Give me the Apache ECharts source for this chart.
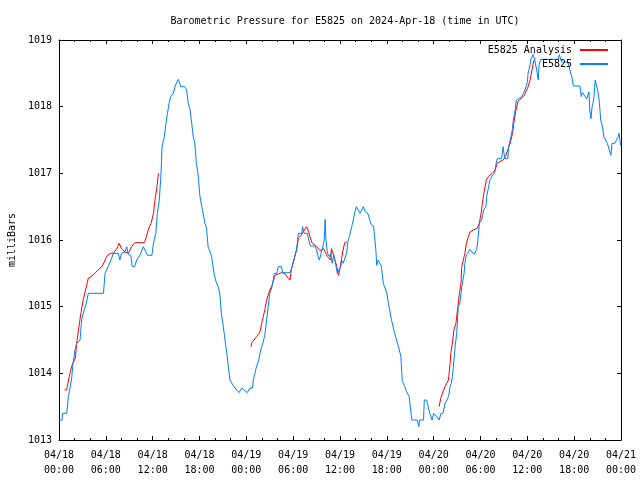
<!DOCTYPE html>
<html>
<head>
<meta charset="utf-8">
<script src="https://cdn.jsdelivr.net/npm/echarts@6/dist/echarts.min.js"></script>
<style>
html,body{margin:0;padding:0;background:#fff;}
#chart{width:640px;height:480px;}
</style>
</head>
<body>
<div id="chart"></div>
<script>
// Hours since 2024-04-18 00:00 UTC
var blueTimes = [0,0.4,0.45,1.0,1.2,1.6,1.8,2.05,2.26,2.7,2.9,3.1,3.5,3.76,5.7,5.9,6.3,6.75,6.96,7.6,7.8,8.0,8.45,8.67,8.9,9.2,9.4,9.7,9.95,10.4,10.8,11.0,11.35,11.9,12.1,12.4,12.6,12.85,13.07,13.2,13.5,13.7,13.9,14.1,14.3,14.65,14.86,15.1,15.3,15.6,16.1,16.35,16.56,16.8,17.0,17.2,17.4,17.6,17.8,18.06,18.3,18.5,18.7,18.9,19.1,19.3,19.56,19.86,20.1,20.4,20.6,20.8,21.05,21.27,21.5,21.7,21.9,22.3,22.76,23.06,23.4,23.6,24.1,24.47,24.8,24.9,25.1,25.3,25.6,25.75,25.96,26.17,26.4,26.6,26.8,27.0,27.25,27.45,27.6,27.9,28.1,28.5,28.65,29.6,29.8,30.0,30.2,30.45,30.66,31.1,31.2,31.4,31.8,32.07,32.2,32.8,33.0,33.2,33.36,33.6,33.8,33.98,34.1,34.2,34.4,34.65,34.8,35.0,35.2,35.35,35.5,35.65,35.9,36.1,36.2,36.4,36.6,36.85,37.0,37.2,37.5,37.7,37.9,38.1,38.3,38.56,38.75,38.98,39.2,39.4,39.6,39.8,40.0,40.3,40.45,40.6,40.7,40.9,41.1,41.3,41.55,42.0,42.2,42.6,43.0,43.5,43.8,43.98,44.3,44.5,44.86,45.1,45.2,45.9,46.1,46.2,46.7,46.8,47.1,47.3,47.5,47.8,48.0,48.2,48.4,48.7,48.94,49.2,49.45,49.7,49.9,50.1,50.25,50.4,50.6,50.75,50.95,51.15,51.35,51.5,51.6,51.9,52.0,52.2,52.45,52.65,52.9,53.2,53.5,53.6,53.85,54.15,54.4,54.7,54.8,55.0,55.2,55.45,55.85,56.0,56.15,56.7,56.9,57.1,57.5,57.6,57.9,58.1,58.2,58.4,58.6,58.8,59.3,59.5,59.7,59.9,60.0,60.1,60.35,60.5,60.75,60.95,61.2,61.4,61.5,61.7,63.96,64.1,64.2,64.4,65.2,65.45,65.7,65.9,66.75,66.9,67.05,67.3,67.6,67.9,68.0,68.15,68.3,68.5,68.7,68.9,69.0,69.2,69.3,69.4,69.6,69.8,70.0,70.25,70.4,70.5,70.7,70.85,71.2,71.45,71.65,71.75,71.95];
var bluePressures = [1013.3,1013.3,1013.4,1013.4,1013.65,1013.9,1014.15,1014.35,1014.45,1014.5,1014.8,1014.9,1015.05,1015.2,1015.2,1015.5,1015.6,1015.73,1015.8,1015.8,1015.7,1015.8,1015.82,1015.9,1015.78,1015.77,1015.6,1015.6,1015.7,1015.78,1015.9,1015.9,1015.77,1015.77,1015.95,1016.1,1016.4,1016.6,1017.0,1017.4,1017.55,1017.75,1017.9,1018.05,1018.15,1018.2,1018.3,1018.37,1018.41,1018.3,1018.3,1018.25,1018.05,1017.95,1017.75,1017.55,1017.45,1017.15,1017.0,1016.65,1016.5,1016.5,1016.25,1016.18,1015.9,1015.9,1015.75,1015.5,1015.38,1015.3,1015.2,1014.9,1014.7,1014.5,1014.3,1014.1,1013.9,1013.82,1013.75,1013.71,1013.78,1013.78,1013.71,1013.78,1013.78,1013.9,1013.9,1014.1,1014.2,1014.3,1014.4,1014.47,1014.6,1014.8,1015.0,1015.2,1015.28,1015.4,1015.5,1015.5,1015.6,1015.6,1015.51,1015.51,1015.57,1015.67,1015.75,1015.85,1016.1,1016.1,1016.2,1016.1,1016.1,1015.97,1015.91,1015.91,1015.85,1015.75,1015.7,1015.7,1015.9,1016.0,1016.31,1016.0,1015.8,1015.75,1015.8,1015.65,1015.78,1015.7,1015.6,1015.5,1015.5,1015.6,1015.7,1015.65,1015.68,1015.8,1015.97,1016.05,1016.2,1016.3,1016.42,1016.5,1016.5,1016.4,1016.4,1016.5,1016.43,1016.4,1016.39,1016.3,1016.23,1016.21,1016.21,1015.85,1015.62,1015.7,1015.67,1015.6,1015.35,1015.2,1015.05,1014.8,1014.6,1014.4,1014.25,1013.88,1013.8,1013.73,1013.65,1013.4,1013.3,1013.3,1013.2,1013.3,1013.3,1013.6,1013.6,1013.5,1013.4,1013.3,1013.4,1013.4,1013.35,1013.3,1013.4,1013.4,1013.55,1013.6,1013.65,1013.8,1013.85,1013.95,1014.2,1014.4,1014.6,1015.0,1015.05,1015.05,1015.3,1015.5,1015.65,1015.78,1015.82,1015.86,1015.82,1015.79,1015.86,1015.92,1016.25,1016.3,1016.45,1016.5,1016.65,1016.77,1016.9,1016.95,1017.02,1017.15,1017.22,1017.22,1017.4,1017.22,1017.22,1017.4,1017.55,1017.67,1017.8,1017.92,1018.1,1018.12,1018.15,1018.2,1018.25,1018.25,1018.37,1018.5,1018.63,1018.73,1018.78,1018.7,1018.55,1018.4,1018.62,1018.71,1018.71,1018.78,1018.77,1018.67,1018.67,1018.55,1018.45,1018.31,1018.31,1018.15,1018.21,1018.18,1018.12,1018.22,1017.95,1017.82,1018.0,1018.1,1018.4,1018.4,1018.25,1018.1,1017.95,1017.8,1017.72,1017.55,1017.52,1017.45,1017.48,1017.45,1017.27,1017.45,1017.45,1017.48,1017.55,1017.6,1017.42];

// Analysis series; null marks a gap between runs
var redTimes = [0.7,0.98,1.4,1.7,1.95,2.1,2.26,2.56,2.8,3.1,3.4,3.76,4.1,4.6,5.0,5.5,5.8,6.0,6.3,6.6,6.96,7.4,7.7,8.0,8.45,8.9,9.3,9.7,10.95,11.2,11.5,11.8,12.0,12.1,12.3,12.55,12.75,18,
  24.6,24.7,25.0,25.3,25.75,25.96,26.17,26.4,26.6,27.0,27.3,27.45,27.67,27.9,28.5,28.95,29.2,29.6,29.7,29.8,30.0,30.2,30.45,30.66,30.9,31.2,31.5,31.7,31.9,32.15,32.4,32.6,33.0,33.45,33.9,34.1,34.4,34.65,34.8,34.9,35.1,35.35,35.6,35.8,36.0,36.2,36.4,36.6,36.85,42,
  48.7,48.9,49.2,49.45,49.9,50.1,50.2,50.4,50.6,50.85,51.1,51.3,51.5,51.6,51.8,52.0,52.2,52.45,52.65,53.1,53.6,53.85,54.1,54.3,54.5,54.75,55.0,55.5,55.9,56.1,56.3,56.9,57.2,57.4,57.8,58.1,58.3,58.5,58.8,59.2,59.6,60.1,60.35,60.6,60.8,61.0];
var redPressures = [1013.75,1013.75,1014.0,1014.13,1014.13,1014.23,1014.45,1014.7,1014.9,1015.1,1015.25,1015.43,1015.45,1015.5,1015.55,1015.6,1015.67,1015.73,1015.78,1015.8,1015.8,1015.87,1015.95,1015.87,1015.82,1015.8,1015.9,1015.96,1015.96,1016.05,1016.18,1016.25,1016.25,1016.4,1016.6,1016.8,1017.0,null,
  1014.4,1014.46,1014.5,1014.55,1014.62,1014.75,1014.85,1014.97,1015.1,1015.25,1015.32,1015.38,1015.47,1015.5,1015.51,1015.5,1015.45,1015.4,1015.38,1015.58,1015.65,1015.75,1015.87,1016.02,1016.05,1016.1,1016.16,1016.2,1016.15,1016.05,1015.96,1015.93,1015.9,1015.84,1015.87,1015.82,1015.75,1015.72,1015.7,1015.87,1015.8,1015.7,1015.6,1015.47,1015.57,1015.72,1015.85,1015.96,1015.97,null,
  1013.5,1013.62,1013.73,1013.8,1013.9,1014.15,1014.3,1014.45,1014.65,1014.75,1015.0,1015.2,1015.35,1015.6,1015.7,1015.8,1015.95,1016.05,1016.12,1016.15,1016.18,1016.25,1016.42,1016.6,1016.75,1016.9,1016.95,1017.0,1017.05,1017.15,1017.18,1017.2,1017.25,1017.32,1017.45,1017.6,1017.78,1017.92,1018.08,1018.12,1018.17,1018.3,1018.4,1018.55,1018.67,1018.73];

var xTickLabels = ['04/18\n00:00','04/18\n06:00','04/18\n12:00','04/18\n18:00','04/19\n00:00','04/19\n06:00','04/19\n12:00','04/19\n18:00','04/20\n00:00','04/20\n06:00','04/20\n12:00','04/20\n18:00','04/21\n00:00'];
var seriesNames = ['E5825 Analysis', 'E5825'];

var FONT = 'DejaVu Sans Mono';
function pairs(ts, vs) {
  return ts.map(function (t, i) { return [t, vs[i] === null ? '-' : vs[i]]; });
}

var chart = echarts.init(document.getElementById('chart'), null, {renderer: 'canvas'});
var baseX = {
  type: 'value', min: 0, max: 72, interval: 6,
  axisLine: {show: true, onZero: false, lineStyle: {color: '#000', width: 1}},
  axisTick: {show: true, inside: true, length: 4, lineStyle: {color: '#000'}},
  minorTick: {show: true, splitNumber: 3, length: 2, lineStyle: {color: '#000'}},
  splitLine: {show: false}
};
var baseY = {
  type: 'value', min: 1013, max: 1019, interval: 1,
  axisLine: {show: true, onZero: false, lineStyle: {color: '#000', width: 1}},
  axisTick: {show: true, inside: true, length: 4, lineStyle: {color: '#000'}},
  splitLine: {show: false}
};
chart.setOption({
  animation: false,
  backgroundColor: '#fff',
  title: {
    text: 'Barometric Pressure for E5825 on 2024-Apr-18 (time in UTC)',
    left: 340, top: 11, textAlign: 'center',
    textStyle: {fontFamily: FONT, fontSize: 10, fontWeight: 'normal', color: '#000'}
  },
  legend: {
    data: seriesNames,
    orient: 'vertical', right: 27, top: 40, align: 'right',
    itemWidth: 28, itemHeight: 2, itemGap: 4,
    icon: 'rect',
    textStyle: {fontFamily: FONT, fontSize: 10, color: '#000', padding: [0, 3, 0, 0]}
  },
  grid: {left: 59, right: 19, top: 40, bottom: 40, containLabel: false, outerBoundsMode: 'none'},
  xAxis: [
    Object.assign({}, baseX, {position: 'bottom',
      axisLabel: {show: true, margin: 8, lineHeight: 15, fontFamily: FONT, fontSize: 10, color: '#000',
        formatter: function (v) { return xTickLabels[Math.round(v / 6)]; }}}),
    Object.assign({}, baseX, {position: 'top', axisLabel: {show: false}})
  ],
  yAxis: [
    Object.assign({}, baseY, {position: 'left',
      name: 'milliBars', nameLocation: 'middle', nameGap: 41, nameRotate: 90,
      nameTextStyle: {fontFamily: FONT, fontSize: 10, color: '#000'},
      axisLabel: {show: true, margin: 7, fontFamily: FONT, fontSize: 10, color: '#000',
        formatter: function (v) { return String(v); }}}),
    Object.assign({}, baseY, {position: 'right', axisLabel: {show: false}})
  ],
  series: [
    {name: seriesNames[0], type: 'line', data: pairs(redTimes, redPressures),
     showSymbol: false, symbol: 'none', connectNulls: false,
     lineStyle: {color: '#ff0000', width: 1}, itemStyle: {color: '#ff0000'}},
    {name: seriesNames[1], type: 'line', data: pairs(blueTimes, bluePressures),
     showSymbol: false, symbol: 'none',
     lineStyle: {color: '#0080ff', width: 1}, itemStyle: {color: '#0080ff'}}
  ]
});
</script>
</body>
</html>
